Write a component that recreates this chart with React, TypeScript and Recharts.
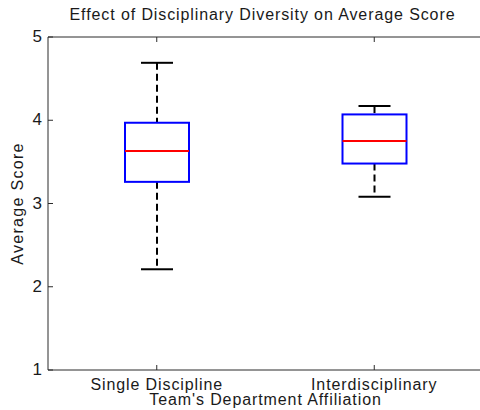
import React from 'react'
import { ComposedChart, Bar, XAxis, YAxis, Label } from 'recharts'

const groups = ['Single Discipline', 'Interdisciplinary']
const whiskerLow = [2.21, 3.08]
const q1 = [3.26, 3.48]
const median = [3.63, 3.75]
const q3 = [3.97, 4.07]
const whiskerHigh = [4.69, 4.17]
const yTicks = [1, 2, 3, 4, 5]

const FONT = '"Liberation Sans", Arial, Helvetica, sans-serif'
const INK = '#1a1a1a'
const AXIS = '#2b2b2b'

const data = groups.map((name, i) => ({
  name,
  range: [whiskerLow[i], whiskerHigh[i]],
  low: whiskerLow[i],
  q1: q1[i],
  median: median[i],
  q3: q3[i],
  high: whiskerHigh[i],
}))

// draws a matlab style box from the bar that spans low..high
function BoxShape(props: any) {
  const { x, y, width, height, payload } = props
  const top = Math.min(y, y + height)
  const span = Math.abs(height)
  const per = span / (payload.high - payload.low)
  const py = (v: number) => top + (payload.high - v) * per
  const cx = x + width / 2
  const capHalf = width / 4
  return (
    <g>
      <line x1={cx} x2={cx} y1={py(payload.high)} y2={py(payload.q3)} stroke="#000" strokeWidth={2} strokeDasharray="7 4" />
      <line x1={cx} x2={cx} y1={py(payload.q1)} y2={py(payload.low)} stroke="#000" strokeWidth={2} strokeDasharray="7 4" />
      <line x1={cx - capHalf} x2={cx + capHalf} y1={py(payload.high)} y2={py(payload.high)} stroke="#000" strokeWidth={2} />
      <line x1={cx - capHalf} x2={cx + capHalf} y1={py(payload.low)} y2={py(payload.low)} stroke="#000" strokeWidth={2} />
      <rect x={x} y={py(payload.q3)} width={width} height={py(payload.q1) - py(payload.q3)} fill="none" stroke="#0000ff" strokeWidth={2} />
      <line x1={x} x2={x + width} y1={py(payload.median)} y2={py(payload.median)} stroke="#ff0000" strokeWidth={2} />
    </g>
  )
}

const LeftTick = ({ x, y, payload }: any) => (
  <g>
    <text x={x - 6} y={y} dy={5} textAnchor="end" fontSize={17} fontFamily={FONT} fill={INK}>
      {payload.value}
    </text>
    <line x1={x} x2={x + 5} y1={y} y2={y} stroke={AXIS} />
  </g>
)

const RightTick = ({ x, y }: any) => <line x1={x} x2={x - 5} y1={y} y2={y} stroke={AXIS} />

const BottomTick = ({ x, y, payload }: any) => (
  <g>
    <text x={x} y={y} dy={20} textAnchor="middle" fontSize={16} letterSpacing={0.9} fontFamily={FONT} fill={INK}>
      {payload.value}
    </text>
    <line x1={x} x2={x} y1={y} y2={y - 5} stroke={AXIS} />
  </g>
)

const TopTick = ({ x, y }: any) => <line x1={x} x2={x} y1={y} y2={y + 5} stroke={AXIS} />

export default function App() {
  return (
    <div style={{ position: 'absolute', left: 0, top: 0, width: 480, height: 410, overflow: 'hidden', background: '#fff' }}>
      <div
        style={{
          position: 'absolute',
          left: 45,
          top: 6,
          width: 435,
          textAlign: 'center',
          fontFamily: FONT,
          fontSize: 16,
          letterSpacing: 0.9,
          color: INK,
          whiteSpace: 'nowrap',
        }}
      >
        Effect of Disciplinary Diversity on Average Score
      </div>
      <ComposedChart width={490} height={410} data={data} margin={{ top: 36, right: 6, left: 0, bottom: 0 }}>
        <XAxis
          xAxisId="bottom"
          dataKey="name"
          height={40}
          tickSize={0}
          tickMargin={0}
          tick={<BottomTick />}
          axisLine={{ stroke: AXIS }}
          tickLine={false}
        >
          <Label
            value="Team's Department Affiliation"
            position="insideBottom"
            offset={5}
            style={{ fontSize: 16, letterSpacing: 0.9, fontFamily: FONT, fill: INK }}
          />
        </XAxis>
        <XAxis
          xAxisId="top"
          orientation="top"
          dataKey="name"
          height={1}
          tickSize={0}
          tickMargin={0}
          tick={<TopTick />}
          axisLine={{ stroke: AXIS }}
          tickLine={false}
        />
        <YAxis
          yAxisId="left"
          type="number"
          domain={[1, 5]}
          ticks={yTicks}
          width={48}
          tickSize={0}
          tickMargin={0}
          tick={<LeftTick />}
          axisLine={{ stroke: AXIS }}
          tickLine={false}
        >
          <Label
            value="Average Score"
            angle={-90}
            position="insideLeft"
            offset={17}
            style={{ textAnchor: 'middle', fontSize: 16, letterSpacing: 1.3, fontFamily: FONT, fill: INK }}
          />
        </YAxis>
        <YAxis
          yAxisId="right"
          orientation="right"
          type="number"
          domain={[1, 5]}
          ticks={yTicks}
          width={1}
          tickSize={0}
          tickMargin={0}
          tick={<RightTick />}
          axisLine={{ stroke: AXIS }}
          tickLine={false}
        />
        <Bar
          xAxisId="bottom"
          yAxisId="left"
          dataKey="range"
          barSize={64}
          shape={<BoxShape />}
          isAnimationActive={false}
        />
      </ComposedChart>
    </div>
  )
}
